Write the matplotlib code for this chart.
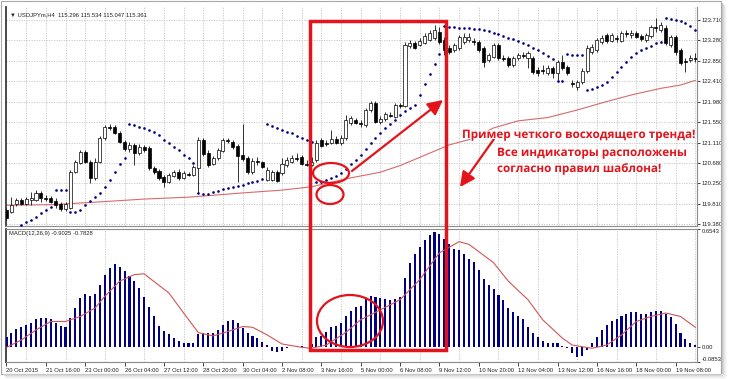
import matplotlib
matplotlib.use("Agg")
import matplotlib.pyplot as plt
import numpy as np
from matplotlib.patches import Rectangle, Ellipse
import matplotlib.patheffects as pe

# ---- data (USDJPY H4, 141 bars) ----
opens = [119.68, 119.64, 119.80, 119.89, 119.80, 119.89, 119.89, 120.04, 119.93, 119.93,
         119.87, 119.80, 119.70, 119.72, 120.48, 120.67, 120.91, 120.70, 120.36, 120.70,
         121.20, 121.44, 121.44, 121.31, 121.12, 120.97, 121.06, 120.89, 121.01, 120.99,
         120.57, 120.50, 120.38, 120.27, 120.40, 120.48, 120.36, 120.44, 120.42, 120.57,
         121.16, 120.89, 120.65, 120.78, 120.93, 121.16, 121.12, 121.03, 120.84, 120.78,
         120.48, 120.72, 120.70, 120.31, 120.31, 120.48, 120.46, 120.63, 120.70, 120.78,
         120.80, 120.65, 120.63, 120.74, 121.16, 121.10, 121.10, 121.18, 121.10, 121.20,
         121.52, 121.59, 121.52, 121.48, 121.80, 121.95, 121.54, 121.61, 121.69, 121.65,
         121.90, 121.88, 123.16, 123.22, 123.18, 123.22, 123.28, 123.32, 123.45, 123.28,
         123.11, 123.07, 123.11, 123.24, 123.28, 123.26, 123.24, 123.11, 122.86, 122.92,
         123.18, 122.90, 122.90, 122.75, 122.90, 122.96, 122.90, 122.90, 122.65, 122.65,
         122.58, 122.69, 122.58, 122.82, 122.71, 122.37, 122.29, 122.39, 122.62, 123.03,
         123.07, 123.24, 123.39, 123.26, 123.32, 123.26, 123.43, 123.39, 123.43, 123.37,
         123.28, 123.37, 123.56, 123.49, 123.54, 123.18, 123.35, 123.07, 122.84, 122.86,
         122.90]
highs = [119.72, 119.95, 119.93, 119.93, 119.95, 120.06, 120.10, 120.08, 120.00, 119.97,
         119.93, 119.85, 119.85, 120.53, 120.74, 120.95, 120.95, 120.74, 120.78, 121.25,
         121.48, 121.50, 121.48, 121.35, 121.16, 121.12, 121.10, 121.08, 121.06, 121.03,
         120.61, 120.55, 120.42, 120.46, 120.53, 120.55, 120.50, 120.48, 120.63, 121.23,
         121.20, 120.95, 120.82, 120.99, 121.20, 121.20, 121.16, 121.08, 121.50, 120.82,
         120.78, 120.80, 120.72, 120.59, 120.53, 120.53, 120.78, 120.80, 120.84, 120.89,
         120.84, 120.74, 120.80, 121.16, 121.20, 121.16, 121.37, 121.25, 121.27, 121.69,
         121.67, 121.63, 121.59, 121.84, 121.99, 121.99, 121.67, 121.76, 121.76, 121.95,
         121.95, 123.24, 123.28, 123.26, 123.32, 123.43, 123.49, 123.60, 123.56, 123.35,
         123.18, 123.22, 123.39, 123.43, 123.43, 123.32, 123.28, 123.16, 123.01, 123.22,
         123.22, 122.96, 122.94, 122.94, 123.01, 123.03, 123.05, 122.94, 122.71, 122.75,
         122.75, 122.73, 122.86, 122.96, 122.75, 122.43, 122.43, 122.69, 123.18, 123.20,
         123.32, 123.39, 123.43, 123.43, 123.39, 123.47, 123.49, 123.49, 123.47, 123.41,
         123.43, 123.60, 123.75, 123.66, 123.60, 123.39, 123.39, 123.11, 122.90, 122.96,
         123.01]
lows = [119.47, 119.61, 119.76, 119.78, 119.78, 119.78, 119.87, 119.85, 119.87, 119.83,
        119.72, 119.66, 119.66, 119.70, 120.46, 120.65, 120.67, 120.25, 120.31, 120.67,
        121.16, 121.37, 121.29, 121.10, 120.93, 120.91, 120.63, 120.84, 120.91, 120.53,
        120.44, 120.31, 120.17, 120.25, 120.38, 120.31, 120.34, 120.40, 120.40, 120.04,
        120.82, 120.59, 120.63, 120.74, 120.91, 121.10, 120.97, 120.27, 120.72, 120.44,
        120.44, 120.63, 120.57, 120.29, 120.29, 120.27, 120.42, 120.59, 120.67, 120.72,
        120.63, 120.61, 120.61, 120.70, 121.01, 121.03, 121.08, 121.08, 121.06, 121.16,
        121.48, 121.50, 121.44, 121.44, 121.76, 121.52, 121.50, 121.57, 121.65, 121.63,
        121.84, 121.86, 123.11, 123.09, 123.16, 123.20, 123.26, 123.28, 123.20, 122.96,
        122.99, 123.03, 123.07, 123.20, 123.24, 123.18, 123.03, 122.71, 122.82, 122.90,
        122.86, 122.84, 122.71, 122.71, 122.86, 122.90, 122.69, 122.56, 122.52, 122.56,
        122.54, 122.48, 122.43, 122.65, 122.54, 122.29, 122.22, 122.35, 122.58, 122.99,
        123.03, 123.20, 123.22, 123.24, 123.24, 123.24, 123.35, 123.32, 123.32, 123.26,
        123.24, 123.32, 123.45, 123.45, 123.18, 123.13, 122.96, 122.75, 122.60, 122.82,
        122.82]
closes = [119.51, 119.78, 119.89, 119.80, 119.91, 119.93, 120.04, 119.93, 119.91, 119.85,
          119.78, 119.70, 119.80, 120.48, 120.70, 120.91, 120.70, 120.36, 120.70, 121.20,
          121.44, 121.42, 121.31, 121.12, 120.97, 121.06, 120.89, 121.01, 120.95, 120.57,
          120.48, 120.36, 120.27, 120.42, 120.48, 120.36, 120.46, 120.43, 120.59, 121.16,
          120.87, 120.63, 120.78, 120.95, 121.16, 121.14, 121.01, 120.82, 120.76, 120.48,
          120.72, 120.70, 120.59, 120.53, 120.48, 120.29, 120.65, 120.74, 120.78, 120.76,
          120.65, 120.64, 120.70, 121.10, 121.03, 121.08, 121.18, 121.10, 121.20, 121.59,
          121.63, 121.52, 121.50, 121.80, 121.95, 121.54, 121.61, 121.71, 121.68, 121.90,
          121.88, 123.18, 123.22, 123.11, 123.26, 123.37, 123.43, 123.49, 123.24, 123.07,
          123.03, 123.18, 123.35, 123.35, 123.35, 123.24, 123.07, 122.82, 122.96, 123.18,
          122.90, 122.88, 122.75, 122.90, 122.96, 122.95, 123.01, 122.60, 122.58, 122.62,
          122.69, 122.58, 122.82, 122.69, 122.58, 122.35, 122.39, 122.62, 123.11, 123.13,
          123.28, 123.32, 123.26, 123.39, 123.31, 123.43, 123.41, 123.43, 123.35, 123.30,
          123.39, 123.56, 123.54, 123.60, 123.22, 123.35, 123.03, 122.79, 122.82, 122.90,
          122.88]
sar = [119.21, 119.25, 119.30, 119.36, 119.42, 119.47, 119.53, 119.61, 119.68, 119.74,
       120.10, 120.10, 120.10, 119.64, 119.64, 119.68, 119.78, 119.87, 119.95, 120.04,
       120.17, 120.31, 120.48, 120.65, 120.78, 121.50, 121.48, 121.44, 121.42, 121.37,
       121.33, 121.27, 121.16, 121.10, 121.01, 120.95, 120.84, 120.78, 120.67, 120.04,
       120.02, 120.02, 120.06, 120.08, 120.12, 120.14, 120.17, 120.19, 120.21, 120.25,
       120.27, 120.29, 120.34, 121.50, 121.46, 121.42, 121.37, 121.33, 121.31, 121.25,
       121.20, 121.16, 121.12, 120.27, 120.27, 120.31, 120.36, 120.40, 120.46, 120.55,
       120.65, 120.74, 120.84, 120.97, 121.10, 121.20, 121.31, 121.42, 121.50, 121.59,
       121.69, 121.78, 121.84, 121.90, 122.12, 122.35, 122.56, 122.77, 122.98, 123.58,
       123.56, 123.56, 123.54, 123.54, 123.54, 123.51, 123.51, 123.49, 123.47, 123.43,
       123.41, 123.37, 123.32, 123.30, 123.26, 123.22, 123.18, 123.11, 123.07, 123.01,
       122.94, 122.88, 122.41, 122.41, 122.99, 122.96, 122.96, 122.96, 122.22, 122.24,
       122.29, 122.33, 122.39, 122.50, 122.60, 122.71, 122.82, 122.92, 123.01, 123.07,
       123.11, 123.16, 123.22, 123.24, 123.75, 123.73, 123.71, 123.68, 123.64, 123.58,
       123.49]
ma_idx = [0, 9, 19, 28, 37, 48, 56, 62, 69, 76, 80, 85, 90, 95, 99, 104, 110, 116, 122, 127, 133, 137, 140]
ma_val = [119.78, 119.79, 119.85, 119.91, 119.95, 120.04, 120.10, 120.17, 120.34, 120.48, 120.62,
          120.84, 121.06, 121.20, 121.42, 121.57, 121.64, 121.80, 121.98, 122.12, 122.26, 122.33, 122.43]

macd = [0.052, 0.075, 0.099, 0.108, 0.121, 0.134, 0.155, 0.159, 0.159, 0.153,
        0.131, 0.116, 0.112, 0.162, 0.215, 0.271, 0.295, 0.280, 0.295, 0.345,
        0.401, 0.435, 0.457, 0.444, 0.420, 0.392, 0.364, 0.327, 0.274, 0.220,
        0.168, 0.116, 0.088, 0.069, 0.047, 0.034, 0.019, 0.019, 0.019, 0.071,
        0.078, 0.078, 0.078, 0.093, 0.121, 0.144, 0.149, 0.131, 0.103, 0.075,
        0.060, 0.047, 0.028, 0.009, -0.024, -0.032, -0.024, -0.009, -0.002, 0.004,
        0.002, -0.004, 0.015, 0.052, 0.060, 0.084, 0.108, 0.116, 0.131, 0.172,
        0.200, 0.220, 0.228, 0.271, 0.284, 0.276, 0.271, 0.267, 0.261, 0.267,
        0.276, 0.383, 0.467, 0.513, 0.556, 0.594, 0.620, 0.640, 0.625, 0.601,
        0.569, 0.541, 0.536, 0.513, 0.489, 0.470, 0.429, 0.377, 0.345, 0.321,
        0.289, 0.258, 0.215, 0.190, 0.172, 0.153, 0.112, 0.078, 0.052, 0.034,
        0.022, 0.019, 0.019, 0.004, -0.009, -0.037, -0.056, -0.052, -0.019, 0.022,
        0.056, 0.090, 0.121, 0.140, 0.153, 0.168, 0.181, 0.190, 0.190, 0.181,
        0.181, 0.194, 0.200, 0.200, 0.183, 0.164, 0.127, 0.078, 0.041, 0.019,
        0.009]
sig_idx = [0, 3, 6, 9, 12, 15, 18, 20, 23, 26, 28, 29, 33, 36, 39, 42, 45, 48, 50, 53, 56, 60,
           62, 65, 69, 72, 76, 80, 84, 88, 92, 94, 99, 102, 106, 109, 113, 115, 119, 122, 125,
           128, 131, 134, 137, 140]
sig_val = [-0.004, 0.037, 0.093, 0.140, 0.140, 0.168, 0.215, 0.280, 0.364, 0.401, 0.405, 0.383,
           0.299, 0.187, 0.078, 0.060, 0.084, 0.112, 0.108, 0.065, 0.015, -0.004, -0.009, 0.009,
           0.080, 0.150, 0.205, 0.261, 0.373, 0.522, 0.584, 0.569, 0.467, 0.364, 0.261, 0.149,
           0.047, 0.009, -0.009, 0.009, 0.065, 0.140, 0.168, 0.187, 0.168, 0.108]

price_ticks = [119.380, 119.810, 120.250, 120.680, 121.110, 121.550, 121.980, 122.410,
               122.850, 123.280, 123.710]
macd_ticks = [0.6543, 0.0, -0.0853]
date_pos = [0, 8, 16, 24, 32, 40, 48, 56, 64, 72, 80, 88, 96, 104, 112, 120, 128, 136]
date_labels = ["20 Oct 2015", "21 Oct 16:00", "23 Oct 00:00", "26 Oct 04:00", "27 Oct 12:00",
               "28 Oct 20:00", "30 Oct 04:00", "2 Nov 08:00", "3 Nov 16:00", "5 Nov 00:00",
               "6 Nov 08:00", "9 Nov 12:00", "10 Nov 20:00", "12 Nov 04:00", "13 Nov 12:00",
               "16 Nov 16:00", "18 Nov 00:00", "19 Nov 08:00"]

RED = "#e3141b"
NAVY = "#000080"
SMALL = ["Liberation Sans", "DejaVu Sans"]

W, H = 729, 379
fig = plt.figure(figsize=(W / 100, H / 100), dpi=100)
fig.patch.set_facecolor("white")

ax1 = fig.add_axes([6 / W, 1 - 226 / H, 691 / W, 219 / H])
ax2 = fig.add_axes([6 / W, 1 - 362 / H, 691 / W, 133 / H])

x = np.arange(len(closes))
o = np.array(opens)
c = np.array(closes)
up = c >= o

for ax in (ax1, ax2):
    ax.set_xlim(-0.1, 140.35)
    ax.set_xticks(np.arange(4, 141, 4), minor=True)
    ax.grid(True, which="minor", axis="x", color="#c4c4c4", lw=0.6, ls=(0, (1.5, 1.5)))
    ax.yaxis.tick_right()
    ax.tick_params(axis="y", length=2, width=0.6, pad=1.5, labelsize=4.2, colors="#222222")
    ax.tick_params(axis="x", which="minor", length=0)
    for s in ax.spines.values():
        s.set_color("#8c8c8c")
        s.set_linewidth(0.8)
    ax.spines["left"].set_color("#3a3a3a")
    ax.spines["left"].set_linewidth(1.3)

# price panel
ax1.set_ylim(119.338, 123.987)
ax1.set_yticks(price_ticks)
ax1.set_yticklabels(["%.3f" % v for v in price_ticks], family=SMALL)
ax1.grid(True, which="major", axis="y", color="#c4c4c4", lw=0.6, ls=(0, (1.5, 1.5)))
ax1.set_xticks([])
ax1.spines["top"].set_visible(False)

ax1.plot(ma_idx, ma_val, color="#d86a6a", lw=0.8, zorder=2)
ax1.vlines(x, lows, highs, color="#111111", lw=0.6, zorder=3)
ax1.bar(x, np.abs(c - o), bottom=np.minimum(o, c), width=0.62,
        color=np.where(up, "white", "black"), edgecolor="black", linewidth=0.5, zorder=4)
ax1.scatter(x, sar, s=3.6, color=NAVY, lw=0, zorder=5)

# MACD panel
ax2.set_ylim(-0.0853, 0.6543)
ax2.set_yticks(macd_ticks)
ax2.set_yticklabels(["0.6543", "0.00", "-0.0853"], family=SMALL)
labs = ax2.get_yticklabels()
labs[0].set_va("top")
labs[2].set_va("bottom")
ax2.bar(x, macd, width=0.42, color=NAVY, zorder=3)
ax2.plot(sig_idx, sig_val, color="#d05555", lw=0.8, zorder=4)
ax2.set_xticks(date_pos)
ax2.set_xticklabels(date_labels, family=SMALL)
ax2.tick_params(axis="x", which="major", length=3, width=0.6, pad=1.5, labelsize=4.2,
                colors="#222222")
for lab in ax2.get_xticklabels():
    lab.set_ha("left")

ax1.text(0.006, 0.975, "\u25bc USDJPYm,H4  115.296 115.534 115.047 115.361",
         transform=ax1.transAxes, fontsize=4.2, family=SMALL, color="#222222", va="top")
ax2.text(0.004, 0.985, "MACD(12,26,9) -0.9025 -0.7828", transform=ax2.transAxes,
         fontsize=4.2, family=SMALL, color="#222222", va="top")

# annotations and window frame drawn over everything, in pixel coordinates of the picture
ov = fig.add_axes([0, 0, 1, 1], zorder=10)
ov.set_xlim(0, W)
ov.set_ylim(H, 0)
ov.axis("off")
ov.patch.set_alpha(0)

# screenshot window border with a soft shadow on the right and bottom
ov.add_patch(Rectangle((0.5, 0.5), 721, 373, fill=False, ec="#a8a8a8", lw=0.8))
for k, col in enumerate(["#c8c8c8", "#d8d8d8", "#e6e6e6", "#f0f0f0", "#f7f7f7"]):
    ov.add_patch(Rectangle((722 + k, 3 + k), 1, 371, color=col, lw=0))
    ov.add_patch(Rectangle((3 + k, 374 + k), 719, 1, color=col, lw=0))

ov.add_patch(Rectangle((310, 21), 136, 329, fill=False, ec=RED, lw=2.5))
for cx, cy, ew, eh in [(331, 173, 36, 20), (330, 194.5, 27, 19), (350, 321, 66, 52)]:
    ov.add_patch(Ellipse((cx, cy), ew, eh, fill=False, ec=RED, lw=1.6))

arrow = dict(arrowstyle="-|>,head_length=0.9,head_width=0.45", color=RED, lw=1.6,
             mutation_scale=10, shrinkA=0, shrinkB=0)
ov.annotate("", xy=(443, 100), xytext=(352, 171), arrowprops=arrow)
ov.annotate("", xy=(460, 187), xytext=(494, 139), arrowprops=arrow)

txt_style = dict(family=["Open Sans", "DejaVu Sans"], weight="bold", color=RED,
                 va="baseline", ha="left", fontsize=9,
                 path_effects=[pe.withStroke(linewidth=1.5, foreground="white")])
lines = [("Пример четкого восходящего тренда!", 462, 138, 233),
         ("Все индикаторы расположены", 497, 156, 190),
         ("согласно правил шаблона!", 497, 172, 165)]
texts = [ov.text(tx, ty, s, **txt_style) for s, tx, ty, tw in lines]
fig.canvas.draw()
for t, (s, tx, ty, tw) in zip(texts, lines):
    w = t.get_window_extent().width
    t.set_fontsize(9 * tw / w)

fig.savefig("out.png", dpi=100)
